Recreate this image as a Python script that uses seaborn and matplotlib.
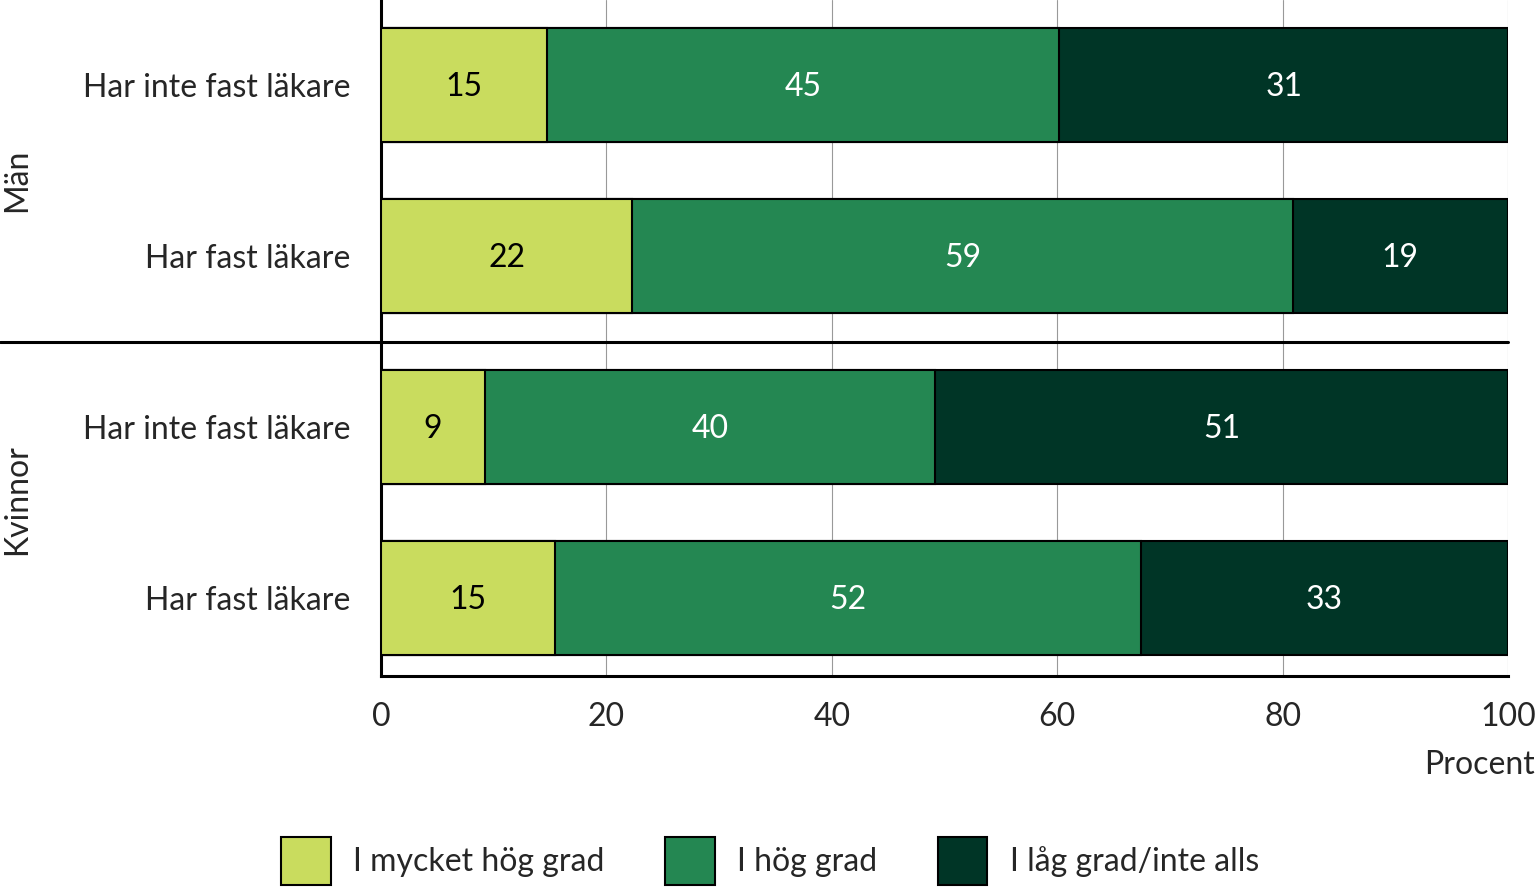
import matplotlib
matplotlib.use("Agg")
import matplotlib.pyplot as plt
import seaborn as sns
import pandas as pd
import numpy as np
from matplotlib.patches import Patch
from matplotlib.lines import Line2D

sns.set_theme(style="white")
plt.rcParams['font.family'] = ['Lato', 'DejaVu Sans']

# Data
rows = ["Har inte fast läkare", "Har fast läkare", "Har inte fast läkare", "Har fast läkare"]
groups = ["Män", "Kvinnor"]
series = ["I mycket hög grad", "I hög grad", "I låg grad/inte alls"]
mycket_hog = [14.7, 22.3, 9.2, 15.4]
hog = [45.5, 58.6, 40.0, 52.0]
lag = [39.8, 19.1, 50.8, 32.6]
label_mycket_hog = ["15", "22", "9", "15"]
label_hog = ["45", "59", "40", "52"]
label_lag = ["31", "19", "51", "33"]
xticks = [0, 20, 40, 60, 80, 100]
colors = ["#C9DC5E", "#248752", "#003526"]
text_colors = ["black", "white", "white"]

FS = 23

fig = plt.figure(figsize=(15.37, 8.89), dpi=100)
ax = fig.add_axes([381/1537, 1 - 676/889, 1127/1537, 676/889])

df = pd.DataFrame({"row": list(range(len(rows))),
                   "s1": mycket_hog, "s2": hog, "s3": lag})
df["c1"] = df["s1"]
df["c2"] = df["s1"] + df["s2"]
df["c3"] = df["c2"] + df["s3"]

for col, color in zip(["c3", "c2", "c1"], colors[::-1]):
    sns.barplot(data=df, x=col, y="row", orient="y", color=color, width=0.667,
                edgecolor="black", linewidth=1.5, saturation=1, ax=ax, zorder=3)

# labels
seg_vals = [mycket_hog, hog, lag]
seg_labels = [label_mycket_hog, label_hog, label_lag]
for i in range(len(rows)):
    left = 0
    for k in range(3):
        w = seg_vals[k][i]
        ax.text(left + w / 2, i + 0.01, seg_labels[k][i], ha="center", va="center",
                fontsize=FS, color=text_colors[k], zorder=5)
        left += w

ax.set_xlim(0, 100)
ax.set_ylim(3.456, -0.5)
ax.set_xticks(xticks)
ax.set_xticklabels([str(t) for t in xticks], fontsize=FS)
ax.set_yticks(range(len(rows)))
ax.set_yticklabels(rows, fontsize=FS)
ax.tick_params(axis="y", length=0, pad=22)
ax.tick_params(axis="x", length=13, width=2.2, color="black", pad=6, direction="out")
ax.xaxis.grid(True, color="#999999", linewidth=0.8, zorder=0)
ax.set_axisbelow(True)
for s in ["top", "right"]:
    ax.spines[s].set_visible(False)
for s in ["left", "bottom"]:
    ax.spines[s].set_color("black")
    ax.spines[s].set_linewidth(2.2)
ax.set_xlabel("Procent", fontsize=FS, ha="right")
ax.xaxis.set_label_coords((1535 - 381) / 1127, -(750 - 676) / 676)
ax.set_ylabel("")

# separator line across
ax.add_line(Line2D([-381/1127, 1], [1.5, 1.5], transform=ax.get_yaxis_transform(),
                   color="black", linewidth=2.2, clip_on=False, zorder=6))

# group labels
fig.text(17/1537, 1 - 180/889, groups[0], rotation=90, ha="center", va="center", fontsize=FS)
fig.text(17/1537, 1 - 500/889, groups[1], rotation=90, ha="center", va="center", fontsize=FS)

handles = [Patch(facecolor=c, edgecolor="black", linewidth=1.5) for c in colors]
fig.legend(handles, series, loc="center", bbox_to_anchor=(770/1537, 1 - 861/889), ncol=3,
           frameon=False, fontsize=FS, handlelength=1.55, handleheight=1.9,
           handletextpad=0.7, columnspacing=1.9, borderpad=0, borderaxespad=0)

fig.savefig("out.png", dpi=100)
